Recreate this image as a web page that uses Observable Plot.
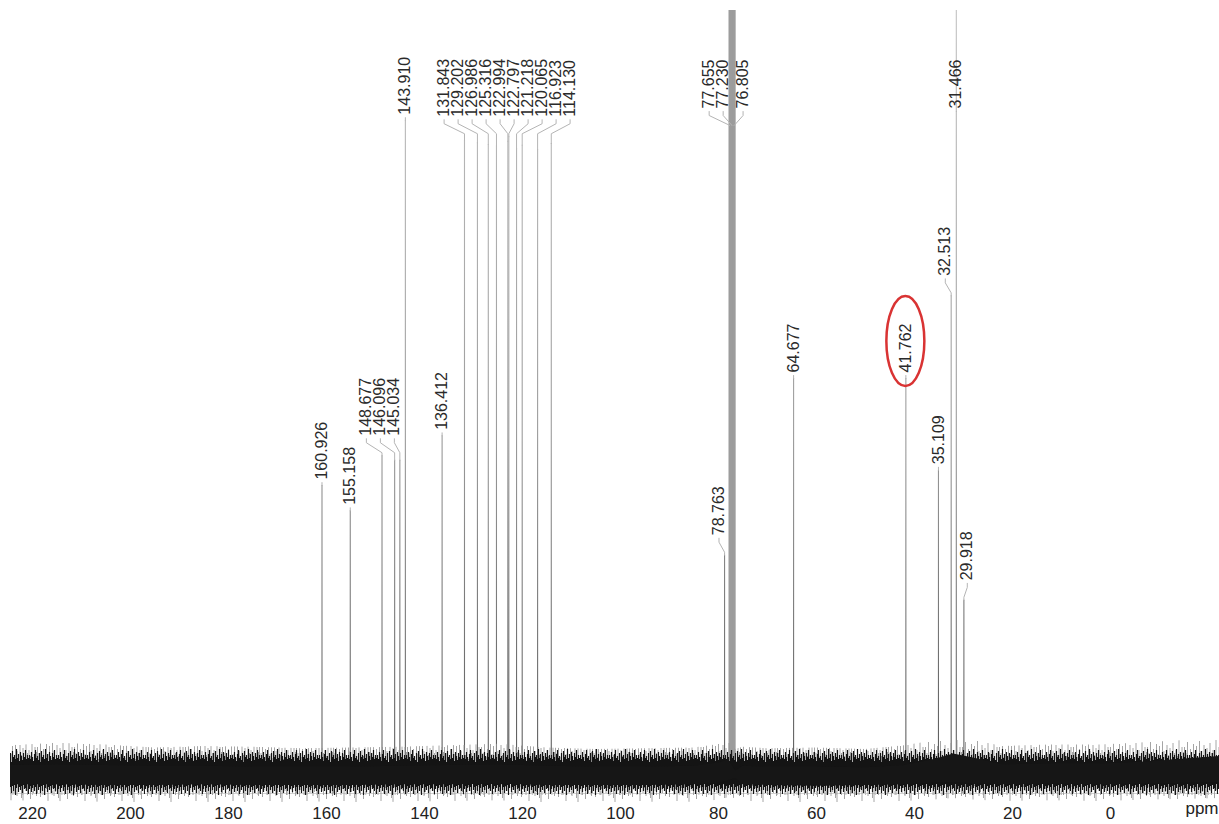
<!DOCTYPE html>
<html><head><meta charset="utf-8">
<script src="https://cdn.jsdelivr.net/npm/d3@7"></script>
<script src="https://cdn.jsdelivr.net/npm/@observablehq/plot@0.6"></script>
<style>
html,body{margin:0;padding:0;background:#fff;}
#chart svg{display:block;}
</style></head><body><div id="chart"></div>
<script>
// ---------- data ----------
const peakPpm    = [160.926, 155.158, 148.677, 146.096, 145.034, 143.910, 136.412, 131.843, 129.202, 126.986, 125.316, 122.994, 122.797, 121.218, 120.065, 116.923, 114.130, 78.763, 77.655, 77.230, 76.805, 64.677, 41.762, 35.109, 32.513, 31.466, 29.918];
const peakHeight = [37.9, 34.6, 41.8, 41.2, 41.2, 85.6, 44.4, 83.0, 82.7, 82.5, 82.3, 82.9, 83.5, 82.0, 82.4, 81.8, 82.6, 28.8, 100, 100, 100, 51.9, 51.9, 39.9, 62.7, 100, 22.9];
const peakLabels = ["160.926", "155.158", "148.677", "146.096", "145.034", "143.910", "136.412", "131.843", "129.202", "126.986", "125.316", "122.994", "122.797", "121.218", "120.065", "116.923", "114.130", "78.763", "77.655", "77.230", "76.805", "64.677", "41.762", "35.109", "32.513", "31.466", "29.918"];
const solventLabels = ["77.655", "77.230", "76.805"];
const highlightLabels = ["41.762"];

// baseline noise envelope (intensity units)
const noisePpm     = [224.5, 215, 205, 195, 185, 175, 165, 155, 145, 135, 125, 115, 105, 95, 85, 79.5, 78, 76.5, 75, 70, 60, 50, 42, 36, 32, 28, 22, 12, 2, -8, -16, -22.25];
const noiseOuterHi = [3.9, 4.2, 4.0, 3.6, 3.8, 3.7, 3.5, 3.6, 3.7, 3.9, 4.1, 3.6, 3.4, 3.5, 3.6, 4.1, 4.6, 3.4, 3.7, 3.5, 3.6, 3.4, 3.9, 4.5, 5.0, 4.6, 3.8, 4.0, 4.0, 4.3, 4.6, 4.8];
const noiseCoreHi  = [1.3, 1.4, 1.3, 1.2, 1.2, 1.1, 1.1, 1.1, 1.2, 1.3, 1.4, 1.2, 1.1, 1.1, 1.2, 1.7, 2.1, 0.6, 1.2, 1.1, 1.1, 1.0, 1.3, 2.1, 2.8, 2.3, 1.4, 1.5, 1.5, 1.8, 2.2, 2.5];
const noiseCoreLo  = [-1.2, -1.2, -1.3, -1.3, -1.2, -1.3, -1.3, -1.3, -1.2, -1.2, -1.1, -1.3, -1.3, -1.3, -1.2, -1.0, -0.7, -0.4, -1.2, -1.3, -1.4, -1.3, -1.2, -1.0, -0.9, -1.1, -1.2, -1.1, -1.2, -1.1, -1.0, -0.9];
const noiseOuterLo = [-3.3, -3.4, -3.5, -3.6, -3.5, -3.7, -3.4, -3.6, -3.5, -3.4, -3.3, -3.6, -3.7, -3.5, -3.5, -3.2, -2.9, -3.0, -3.6, -3.7, -3.8, -3.6, -3.4, -3.2, -3.0, -3.2, -3.4, -3.3, -3.4, -3.2, -3.1, -3.0];

const xTicks = [220, 200, 180, 160, 140, 120, 100, 80, 60, 40, 20, 0];
const minorTicks = [-20, -18, -16, -14, -12, -10, -8, -6, -4, -2, 0, 2, 4, 6, 8, 10, 12, 14, 16, 18, 20, 22, 24, 26, 28, 30, 32, 34, 36, 38, 40, 42, 44, 46, 48, 50, 52, 54, 56, 58, 60, 62, 64, 66, 68, 70, 72, 74, 76, 78, 80, 82, 84, 86, 88, 90, 92, 94, 96, 98, 100, 102, 104, 106, 108, 110, 112, 114, 116, 118, 120, 122, 124, 126, 128, 130, 132, 134, 136, 138, 140, 142, 144, 146, 148, 150, 152, 154, 156, 158, 160, 162, 164, 166, 168, 170, 172, 174, 176, 178, 180, 182, 184, 186, 188, 190, 192, 194, 196, 198, 200, 202, 204, 206, 208, 210, 212, 214, 216, 218, 220, 222, 224];
const axisUnit = "ppm";

// ---------- layout ----------
const W = 1219, H = 824, mL = 10, mR = 0, mT = 10, mB = 49;
const xDomain = [224.5, -22.25], yDomain = [0, 100];
const FONT = "'Liberation Sans', Arial, Helvetica, sans-serif";
const xs = Plot.scale({x: {type: "linear", domain: xDomain, range: [mL, W - mR]}});
const ys = Plot.scale({y: {type: "linear", domain: yDomain, range: [H - mB, mT]}});
const baseY = H - mB;

const SPACING = 14, CLEAR = 11, CAP = 108, GAP_SINGLE = 6, GAP_KINK = 20, TEXT_LEN = 58, LABEL_FS = 16;

const items = peakPpm.map((p, i) => ({i, ppm: p, label: peakLabels[i], px: xs.apply(p), top: ys.apply(peakHeight[i])}))
  .sort((a, b) => a.px - b.px);
let groups = items.map(m => ({members: [m], shift: 0}));

function layout(g) {
  const n = g.members.length;
  g.kinked = n > 1 || Math.abs(g.shift) > 0.5;
  const minTop = d3.min(g.members, m => m.top);
  g.bottom = Math.max(CAP, minTop - (g.kinked ? GAP_KINK : GAP_SINGLE));
  g.cx0 = d3.mean(g.members, m => m.px);
  const cx = g.cx0 + g.shift;
  g.members.forEach((m, k) => { m.lx = cx + (k - (n - 1) / 2) * SPACING; });
  g.left = g.members[0].lx - SPACING / 2;
  g.right = g.members[n - 1].lx + SPACING / 2;
  g.topY = g.bottom - TEXT_LEN;
}
function avoid(g) {
  const own = new Set(g.members);
  for (let iter = 0; iter < 6; iter++) {
    layout(g);
    let moved = false;
    for (const o of items) {
      if (own.has(o) || o.top >= g.bottom) continue;
      for (const m of g.members) {
        if (Math.abs(m.lx - o.px) < CLEAR) {
          if (o.px >= g.cx0) g.shift += (o.px - CLEAR) - m.lx;
          else g.shift += (o.px + CLEAR) - m.lx;
          moved = true; break;
        }
      }
      if (moved) break;
    }
    if (!moved) break;
  }
  layout(g);
}
let changed = true;
while (changed) {
  changed = false;
  groups.forEach(avoid);
  outer: for (let a = 0; a < groups.length; a++) {
    for (let b = a + 1; b < groups.length; b++) {
      const A = groups[a], B = groups[b];
      if (A.left < B.right && B.left < A.right && A.topY < B.bottom && B.topY < A.bottom) {
        const merged = {members: [...A.members, ...B.members].sort((u, v) => u.px - v.px), shift: 0};
        groups = groups.filter((_, k) => k !== a && k !== b);
        groups.push(merged);
        changed = true;
        break outer;
      }
    }
  }
}
groups.forEach(layout);

const labelRows = [], leaderRows = [];
let highlight = null;
for (const g of groups) for (const m of g.members) {
  const b = g.bottom;
  labelRows.push({x: xs.invert(m.lx), y: ys.invert(b), label: m.label});
  let pts;
  if (Math.abs(m.lx - m.px) < 0.5) pts = [[m.px, b + 3], [m.px, Math.max(m.top, b + 3)]];
  else { const k = b + 17; pts = [[m.lx, b + 3], [m.lx, b + 7], [m.px, k], [m.px, Math.max(m.top, k)]]; }
  pts.forEach(([px, py]) => leaderRows.push({id: m.i, x: xs.invert(px), y: ys.invert(py)}));
  if (highlightLabels.includes(m.label)) highlight = {cx: m.lx, cy: b - TEXT_LEN / 2 - 2};
}

const peaks = peakPpm.map((p, i) => ({ppm: p, h: peakHeight[i], label: peakLabels[i]}));
const regular = peaks.filter(d => !solventLabels.includes(d.label));
const solvent = peaks.filter(d => solventLabels.includes(d.label));
const noise = noisePpm.map((p, i) => ({ppm: p, oh: noiseOuterHi[i], ch: noiseCoreHi[i], cl: noiseCoreLo[i], ol: noiseOuterLo[i]}));

const svg = Plot.plot({
  width: W, height: H,
  marginLeft: mL, marginRight: mR, marginTop: mT, marginBottom: mB,
  x: {domain: xDomain, range: [mL, W - mR]},
  y: {domain: yDomain, axis: null},
  style: {fontFamily: FONT, color: "#222", background: "#fff"},
  marks: [
    Plot.ruleY([0], {dy: 18, stroke: "#d2d2d2"}),
    Plot.axisX({ticks: minorTicks, tickSize: 4, dy: 16, stroke: "#bdbdbd", tickFormat: () => "", label: null}),
    Plot.axisX({ticks: xTicks, tickSize: 0, tickPadding: 31, fontSize: 17, fill: "#222", tickFormat: d => String(d), label: null}),
    Plot.text([axisUnit], {frameAnchor: "bottom-right", textAnchor: "end", lineAnchor: "top", dx: -1, dy: 26, fontSize: 17, fill: "#222"}),
    Plot.ruleX(solvent, {x: "ppm", y1: 0, y2: "h", stroke: "#9c9c9c", strokeWidth: 3}),
    Plot.ruleX(regular, {x: "ppm", y1: 0, y2: "h", stroke: "url(#peakGrad)", strokeWidth: 1.1}),
    Plot.line(leaderRows, {x: "x", y: "y", z: "id", stroke: "#b4b4b4", strokeWidth: 1}),
    Plot.areaY(noise, {x: "ppm", y1: "ol", y2: "oh", fill: "url(#noiseOuter)"}),
    Plot.areaY(noise, {x: "ppm", y1: "ol", y2: "oh", fill: "url(#noiseCore)"}),
    Plot.areaY(noise, {x: "ppm", y1: "cl", y2: "ch", fill: "#161616"}),
    Plot.text(labelRows, {x: "x", y: "y", text: "label", rotate: -90, textAnchor: "start", lineAnchor: "middle", fontSize: LABEL_FS, fill: "#2a2a2a"})
  ]
});

// textures for the baseline noise (style only)
const outerSpikes = [[0.5,12,58],[2,18,52],[3.5,7,62],[5,22,55],[6.5,14,49],[8,25,60],[9.5,9,54],[11,19,66],[12.5,11,51],[14,23,58],[15.5,6,53],[17,16,61],[18.5,27,57],[20,10,50],[21.5,20,63],[23,13,67],[24.5,24,52],[26,8,56],[27.5,18,60],[29,15,48],[30.5,21,64],[32,5,55],[33.5,26,58],[35,12,52],[36.5,17,61]];
const coreSpikes = [[0.5,10,44],[1.5,14,41],[2.5,7,47],[3.5,12,43],[4.5,16,40],[5.5,9,46],[6.5,5,42],[7.5,13,49],[8.5,11,39],[9.5,15,45],[10.5,8,42],[11.5,17,48],[12.5,6,41],[13.5,12,46],[14.5,10,40],[15.5,14,50],[16.5,4,43],[17.5,13,39],[18.5,9,47],[19.5,16,42],[20.5,7,45],[21.5,11,41],[22.5,15,48],[23.5,8,40],[24.5,12,44],[25.5,5,43],[26.5,14,46],[27.5,10,39],[28.5,13,49]];
const spikePath = a => a.map(([x, y1, y2]) => `M${x},${y1}V${y2}`).join("");

const s = d3.select(svg);
s.insert("defs", ":first-child").html(`
  <linearGradient id="peakGrad" gradientUnits="userSpaceOnUse" x1="0" y1="${mT}" x2="0" y2="${baseY}">
    <stop offset="0" stop-color="#c2c2c2"/>
    <stop offset="0.55" stop-color="#9c9c9c"/>
    <stop offset="1" stop-color="#5a5a5a"/>
  </linearGradient>
  <pattern id="noiseOuter" patternUnits="userSpaceOnUse" x="0" y="${baseY - 40}" width="37" height="75">
    <path d="${spikePath(outerSpikes)}" stroke="#8e8e8e" stroke-width="0.8"/>
  </pattern>
  <pattern id="noiseCore" patternUnits="userSpaceOnUse" x="0" y="${baseY - 30}" width="29" height="75">
    <path d="${spikePath(coreSpikes)}" stroke="#141414" stroke-width="1.2"/>
  </pattern>`);
if (highlight) {
  s.append("ellipse").attr("cx", highlight.cx).attr("cy", highlight.cy)
    .attr("rx", 19).attr("ry", 45).attr("fill", "none")
    .attr("stroke", "#d93333").attr("stroke-width", 2.5);
}
document.getElementById("chart").appendChild(svg);
</script>
</body></html>
